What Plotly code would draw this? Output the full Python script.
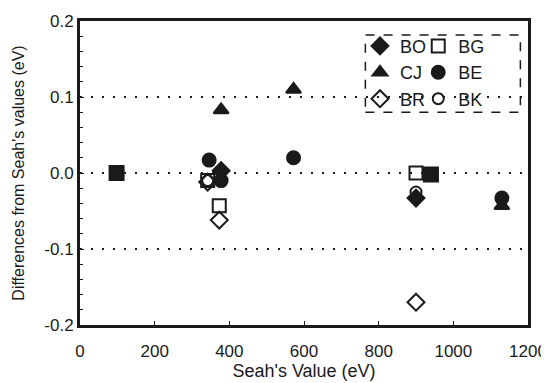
import plotly.graph_objects as go

# Data (Seah's value in eV, difference in eV)
bo_x = [378, 900]
bo_y = [0.003, -0.033]
bg_x = [342, 373, 900]
bg_y = [-0.010, -0.043, 0.0]
cj_x = [378, 572, 1130]
cj_y = [0.083, 0.110, -0.043]
be_x = [346, 378, 572, 1130]
be_y = [0.017, -0.010, 0.020, -0.033]
br_x = [342, 373, 900]
br_y = [-0.012, -0.062, -0.170]
bk_x = [342, 900]
bk_y = [-0.010, -0.025]
# overlapping coincident points (drawn as filled squares)
ov_x = [98, 940]
ov_y = [0.0, -0.002]

x_ticks = [0, 200, 400, 600, 800, 1000, 1200]
y_ticks = [-0.2, -0.1, 0.0, 0.1, 0.2]

FONT = "Liberation Sans, Arial, sans-serif"
K = "#1a1a1a"
MS = 13

fig = go.Figure()

def add(x, y, name, symbol, legend, show=True, size=MS):
    fig.add_trace(go.Scatter(
        x=x, y=y, mode="markers", name=name, legend=legend, showlegend=show,
        marker=dict(symbol=symbol, size=size, color=K,
                    line=dict(color=K, width=2)),
    ))

add(ov_x, ov_y, "", "square", "legend", show=False, size=14)
add(bo_x, bo_y, "BO", "diamond", "legend")
add(cj_x, cj_y, "CJ", "triangle-up", "legend")
add(br_x, br_y, "BR", "diamond-open", "legend")
add(bg_x, bg_y, "BG", "square-open", "legend2")
add(be_x, be_y, "BE", "circle", "legend2")
add(bk_x, bk_y, "BK", "circle-open", "legend2", size=11)

leg_common = dict(
    font=dict(family=FONT, size=18, color=K),
    bgcolor="rgba(0,0,0,0)", borderwidth=0,
    xanchor="left", yanchor="top", itemwidth=30,
    tracegroupgap=0,
)

# page body has an 8px margin, so the figure is a bit smaller than the window
fig.update_layout(
    width=541, height=375,
    margin=dict(l=72, r=21, t=13, b=58),
    paper_bgcolor="white", plot_bgcolor="white",
    font=dict(family=FONT, size=16, color=K),
    showlegend=True,
    legend=dict(x=0.625, y=0.978, **leg_common),
    legend2=dict(x=0.755, y=0.978, **leg_common),
    xaxis=dict(
        range=[0, 1200], tickvals=x_ticks, ticktext=[str(v) for v in x_ticks],
        showline=True, linewidth=3, linecolor=K, mirror=True,
        ticks="inside", ticklen=4, tickcolor=K,
        showgrid=False, zeroline=False, automargin=False,
        ticklabelstandoff=9,
        tickfont=dict(family=FONT, size=17, color=K),
        title=dict(text="Seah's Value (eV)", font=dict(family=FONT, size=18, color=K), standoff=0),
    ),
    yaxis=dict(
        range=[-0.2, 0.2], tickvals=y_ticks, ticktext=["-0.2", "-0.1", "0.0", "0.1", "0.2"],
        showline=True, linewidth=3, linecolor=K, mirror=True,
        ticks="inside", ticklen=4, tickcolor=K,
        showgrid=True, gridcolor=K, griddash="2px,9px", gridwidth=2,
        zeroline=False, automargin=False,
        minor=dict(ticks="inside", ticklen=3, tickcolor=K, dtick=0.02, showgrid=False),
        tickfont=dict(family=FONT, size=17, color=K),
        title=dict(text="Differences from Seah's values (eV)", font=dict(family=FONT, size=16, color=K), standoff=16),
    ),
    shapes=[dict(type="rect", xref="paper", yref="paper",
                 x0=0.637, x1=0.983, y0=0.7, y1=0.954,
                 line=dict(color=K, width=1.5, dash="dash"))],
)

fig.write_html("out.html")
